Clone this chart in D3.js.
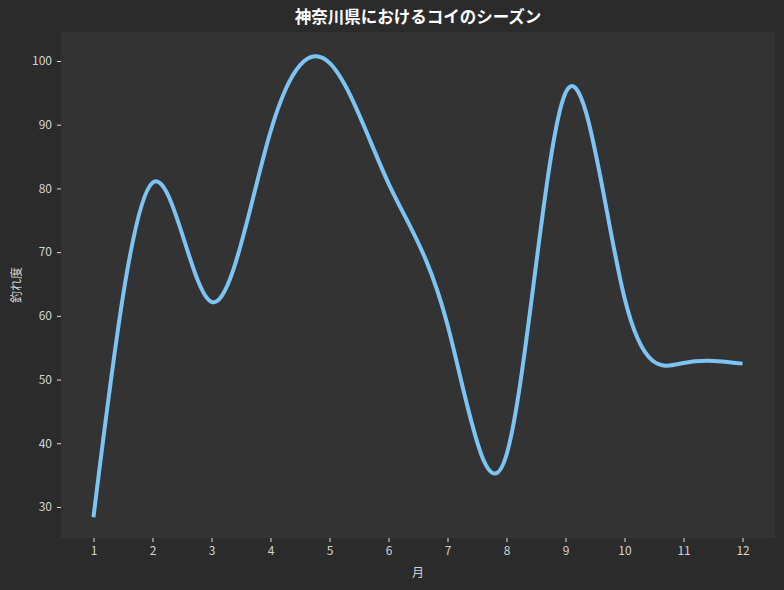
<!DOCTYPE html>
<html>
<head>
<meta charset="utf-8">
<script src="https://cdn.jsdelivr.net/npm/d3@7"></script>
<style>
  body { margin: 0; background: #2b2b2b; }
  svg { display: block; }
</style>
</head>
<body>
<div id="vis1"></div>
<script>
// monthly values
const MONTHS = [1, 2, 3, 4, 5, 6, 7, 8, 9, 10, 11, 12];
const SCORES = [28.4, 80.9, 62.2, 88.9, 99.7, 80.8, 58.6, 38.2, 95.0, 62.8, 52.6, 52.5];
const X_TICKS = [1, 2, 3, 4, 5, 6, 7, 8, 9, 10, 11, 12];
const Y_TICKS = [30, 40, 50, 60, 70, 80, 90, 100];

const TITLE = "神奈川県におけるコイのシーズン";
const X_LABEL = "月";
const Y_LABEL = "釣れ度";

const WIDTH = 784;
const HEIGHT = 590;
const MARG = {left: 61, right: 9, top: 32, bottom: 52};
const VIS_WIDTH = WIDTH - MARG.left - MARG.right;
const VIS_HEIGHT = HEIGHT - MARG.top - MARG.bottom;
const FONT = "'Noto Sans CJK JP', 'Noto Sans', sans-serif";

const FRAME = d3.select("#vis1")
  .append("svg")
    .attr("width", WIDTH)
    .attr("height", HEIGHT);

FRAME.append("rect")
  .attr("width", WIDTH).attr("height", HEIGHT)
  .attr("fill", "#2b2b2b");

const data = MONTHS.map((m, i) => ({month: m, score: SCORES[i]}));

const X_SCALE = d3.scaleLinear().domain([0.45, 12.55]).range([0, VIS_WIDTH]);
const Y_SCALE = d3.scaleLinear().domain([25.13, 104.55]).range([VIS_HEIGHT, 0]);

const g = FRAME.append("g")
  .attr("transform", "translate(" + MARG.left + "," + MARG.top + ")");

g.append("rect")
  .attr("width", VIS_WIDTH).attr("height", VIS_HEIGHT)
  .attr("fill", "#333333");

// axes
const xAxis = g.append("g")
  .attr("transform", "translate(0," + VIS_HEIGHT + ")")
  .call(d3.axisBottom(X_SCALE).tickValues(X_TICKS).tickSize(4).tickPadding(4));

const yAxis = g.append("g")
  .call(d3.axisLeft(Y_SCALE).tickValues(Y_TICKS).tickSize(4).tickPadding(5));

[xAxis, yAxis].forEach(ax => {
  ax.select(".domain").remove();
  ax.selectAll(".tick line").attr("stroke", "#e0e0e0").attr("stroke-width", 1);
  ax.selectAll(".tick text")
    .attr("fill", "#d2d2d2")
    .style("font-family", FONT)
    .style("font-size", "12px");
});

// smooth line through the monthly values
g.append("path")
  .datum(data)
  .attr("fill", "none")
  .attr("stroke", "#7cc4f4")
  .attr("stroke-width", 4)
  .attr("stroke-linejoin", "round")
  .attr("d", d3.line()
    .x(d => X_SCALE(d.month))
    .y(d => Y_SCALE(d.score))
    .curve(d3.curveNatural));

// labels
FRAME.append("text")
  .attr("x", MARG.left + VIS_WIDTH / 2)
  .attr("y", 23)
  .attr("text-anchor", "middle")
  .attr("fill", "#ffffff")
  .style("font-family", FONT)
  .style("font-size", "16.5px")
  .style("font-weight", "bold")
  .text(TITLE);

FRAME.append("text")
  .attr("x", MARG.left + VIS_WIDTH / 2)
  .attr("y", 577)
  .attr("text-anchor", "middle")
  .attr("fill", "#d2d2d2")
  .style("font-family", FONT)
  .style("font-size", "12px")
  .text(X_LABEL);

FRAME.append("text")
  .attr("transform", "translate(21," + (MARG.top + VIS_HEIGHT / 2) + ") rotate(-90)")
  .attr("text-anchor", "middle")
  .attr("fill", "#d2d2d2")
  .style("font-family", FONT)
  .style("font-size", "12px")
  .text(Y_LABEL);
</script>
</body>
</html>
